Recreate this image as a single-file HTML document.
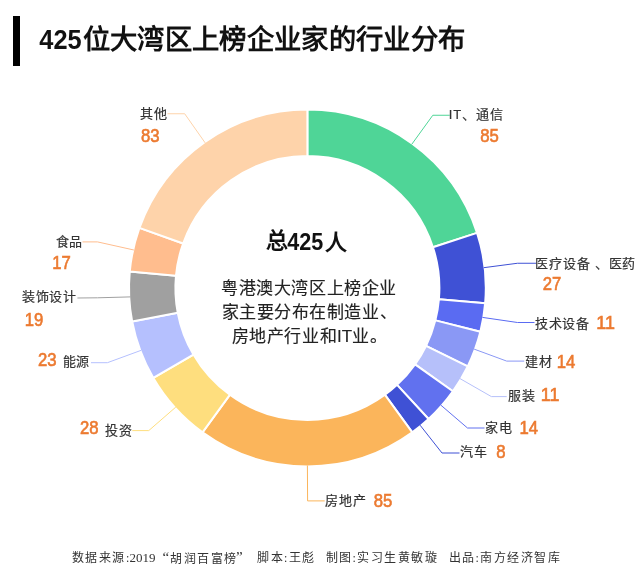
<!DOCTYPE html>
<html lang="zh-CN"><head><meta charset="utf-8">
<style>
html,body{margin:0;padding:0;background:#fff;}
body{width:640px;height:574px;overflow:hidden;position:relative;}
.bar{position:absolute;left:12.9px;top:16.2px;width:7.4px;height:50.1px;background:#000;}
svg{position:absolute;left:0;top:0;will-change:transform;}
</style></head><body>
<div class="bar"></div>
<svg width="640" height="574" viewBox="0 0 640 574">
<path d="M307.40,109.60A178.4,178.4 0 0 1 477.07,232.87L432.94,247.21A132.0,132.0 0 0 0 307.40,156.00Z" fill="#4fd597" stroke="#fff" stroke-width="2" stroke-linejoin="round"/><path d="M477.07,232.87A178.4,178.4 0 0 1 485.16,303.15L438.92,299.21A132.0,132.0 0 0 0 432.94,247.21Z" fill="#3f51d5" stroke="#fff" stroke-width="2" stroke-linejoin="round"/><path d="M485.16,303.15A178.4,178.4 0 0 1 480.36,331.73L435.37,320.35A132.0,132.0 0 0 0 438.92,299.21Z" fill="#5a6bf2" stroke="#fff" stroke-width="2" stroke-linejoin="round"/><path d="M480.36,331.73A178.4,178.4 0 0 1 467.68,366.34L425.99,345.96A132.0,132.0 0 0 0 435.37,320.35Z" fill="#8a98f5" stroke="#fff" stroke-width="2" stroke-linejoin="round"/><path d="M467.68,366.34A178.4,178.4 0 0 1 452.88,391.25L415.04,364.40A132.0,132.0 0 0 0 425.99,345.96Z" fill="#b6c0fa" stroke="#fff" stroke-width="2" stroke-linejoin="round"/><path d="M452.88,391.25A178.4,178.4 0 0 1 428.56,418.95L397.05,384.89A132.0,132.0 0 0 0 415.04,364.40Z" fill="#6171ef" stroke="#fff" stroke-width="2" stroke-linejoin="round"/><path d="M428.56,418.95A178.4,178.4 0 0 1 412.26,432.33L384.99,394.79A132.0,132.0 0 0 0 397.05,384.89Z" fill="#3f51d5" stroke="#fff" stroke-width="2" stroke-linejoin="round"/><path d="M412.26,432.33A178.4,178.4 0 0 1 202.54,432.33L229.81,394.79A132.0,132.0 0 0 0 384.99,394.79Z" fill="#fbb55b" stroke="#fff" stroke-width="2" stroke-linejoin="round"/><path d="M202.54,432.33A178.4,178.4 0 0 1 153.34,377.96L193.41,354.56A132.0,132.0 0 0 0 229.81,394.79Z" fill="#fede7e" stroke="#fff" stroke-width="2" stroke-linejoin="round"/><path d="M153.34,377.96A178.4,178.4 0 0 1 132.16,321.43L177.74,312.73A132.0,132.0 0 0 0 193.41,354.56Z" fill="#b5c0fe" stroke="#fff" stroke-width="2" stroke-linejoin="round"/><path d="M132.16,321.43A178.4,178.4 0 0 1 129.76,271.54L175.96,275.82A132.0,132.0 0 0 0 177.74,312.73Z" fill="#a0a0a0" stroke="#fff" stroke-width="2" stroke-linejoin="round"/><path d="M129.76,271.54A178.4,178.4 0 0 1 139.44,227.88L183.12,243.52A132.0,132.0 0 0 0 175.96,275.82Z" fill="#ffbd8e" stroke="#fff" stroke-width="2" stroke-linejoin="round"/><path d="M139.44,227.88A178.4,178.4 0 0 1 307.40,109.60L307.40,156.00A132.0,132.0 0 0 0 183.12,243.52Z" fill="#fed3aa" stroke="#fff" stroke-width="2" stroke-linejoin="round"/>
<polyline points="411.70,144.40 432.80,115.25 449.70,115.25" fill="none" stroke="#4fd597" stroke-width="1"/><polyline points="483.70,267.70 517.50,263.25 536.25,263.25" fill="none" stroke="#3f51d5" stroke-width="1"/><polyline points="482.45,317.40 517.50,322.50 534.50,322.50" fill="none" stroke="#5a6bf2" stroke-width="1"/><polyline points="474.10,349.10 506.70,361.10 524.20,361.10" fill="none" stroke="#8a98f5" stroke-width="1"/><polyline points="460.00,378.60 491.40,396.60 506.70,396.60" fill="none" stroke="#b6c0fa" stroke-width="1"/><polyline points="440.80,405.10 467.50,428.00 484.50,428.00" fill="none" stroke="#6171ef" stroke-width="1"/><polyline points="420.10,425.20 442.00,453.00 459.50,453.00" fill="none" stroke="#3f51d5" stroke-width="1"/><polyline points="307.40,465.50 307.60,500.90 324.70,500.90" fill="none" stroke="#fbb55b" stroke-width="1"/><polyline points="175.80,407.10 148.75,430.60 132.25,430.60" fill="none" stroke="#fede7e" stroke-width="1"/><polyline points="141.20,350.30 107.40,362.70 91.00,362.70" fill="none" stroke="#b5c0fe" stroke-width="1"/><polyline points="130.30,296.90 97.50,297.80 77.40,298.00" fill="none" stroke="#a0a0a0" stroke-width="1"/><polyline points="133.90,250.00 97.50,241.90 82.50,241.90" fill="none" stroke="#ffbd8e" stroke-width="1"/><polyline points="205.20,142.90 184.70,113.75 167.50,113.75" fill="none" stroke="#fed3aa" stroke-width="1"/>
<text x="39.35" y="48.90" textLength="42.3" lengthAdjust="spacingAndGlyphs" style="font-family:'Liberation Sans',sans-serif;font-size:28.50px;font-weight:bold;fill:#111;letter-spacing:0px;white-space:pre">425</text><text x="82.55" y="48.75" style="font-family:'Liberation Sans',sans-serif;font-size:27.30px;font-weight:bold;fill:#111;letter-spacing:0.33px;white-space:pre">位大湾区上榜企业家的行业分布</text><text x="140.30" y="117.90" style="font-family:'Liberation Sans',sans-serif;font-size:13.00px;font-weight:normal;fill:#333;letter-spacing:0.8px;stroke:#333;stroke-width:0.2px;white-space:pre">其他</text><text x="141.00" y="141.80" textLength="18.59" lengthAdjust="spacingAndGlyphs" style="font-family:'Liberation Sans',sans-serif;font-size:19.00px;font-weight:normal;fill:#ec7a30;letter-spacing:0px;stroke:#ec7a30;stroke-width:0.65px;white-space:pre">83</text><text x="55.50" y="246.00" style="font-family:'Liberation Sans',sans-serif;font-size:13.00px;font-weight:normal;fill:#333;letter-spacing:0.8px;stroke:#333;stroke-width:0.2px;white-space:pre">食品</text><text x="52.20" y="268.50" textLength="18.59" lengthAdjust="spacingAndGlyphs" style="font-family:'Liberation Sans',sans-serif;font-size:19.00px;font-weight:normal;fill:#ec7a30;letter-spacing:0px;stroke:#ec7a30;stroke-width:0.65px;white-space:pre">17</text><text x="21.80" y="301.40" style="font-family:'Liberation Sans',sans-serif;font-size:13.00px;font-weight:normal;fill:#333;letter-spacing:0.8px;stroke:#333;stroke-width:0.2px;white-space:pre">装饰设计</text><text x="24.70" y="325.70" textLength="18.59" lengthAdjust="spacingAndGlyphs" style="font-family:'Liberation Sans',sans-serif;font-size:19.00px;font-weight:normal;fill:#ec7a30;letter-spacing:0px;stroke:#ec7a30;stroke-width:0.65px;white-space:pre">19</text><text x="37.90" y="366.20" textLength="18.59" lengthAdjust="spacingAndGlyphs" style="font-family:'Liberation Sans',sans-serif;font-size:19.00px;font-weight:normal;fill:#ec7a30;letter-spacing:0px;stroke:#ec7a30;stroke-width:0.65px;white-space:pre">23</text><text x="62.50" y="365.50" style="font-family:'Liberation Sans',sans-serif;font-size:13.00px;font-weight:normal;fill:#333;letter-spacing:0.8px;stroke:#333;stroke-width:0.2px;white-space:pre">能源</text><text x="79.90" y="434.15" textLength="18.59" lengthAdjust="spacingAndGlyphs" style="font-family:'Liberation Sans',sans-serif;font-size:19.00px;font-weight:normal;fill:#ec7a30;letter-spacing:0px;stroke:#ec7a30;stroke-width:0.65px;white-space:pre">28</text><text x="105.20" y="434.75" style="font-family:'Liberation Sans',sans-serif;font-size:13.00px;font-weight:normal;fill:#333;letter-spacing:0.8px;stroke:#333;stroke-width:0.2px;white-space:pre">投资</text><text x="325.25" y="504.70" style="font-family:'Liberation Sans',sans-serif;font-size:13.00px;font-weight:normal;fill:#333;letter-spacing:0.8px;stroke:#333;stroke-width:0.2px;white-space:pre">房地产</text><text x="373.70" y="506.65" textLength="18.59" lengthAdjust="spacingAndGlyphs" style="font-family:'Liberation Sans',sans-serif;font-size:19.00px;font-weight:normal;fill:#ec7a30;letter-spacing:0px;stroke:#ec7a30;stroke-width:0.65px;white-space:pre">85</text><text x="448.85" y="119.30" style="font-family:'Liberation Sans',sans-serif;font-size:13.00px;font-weight:normal;fill:#333;letter-spacing:0.8px;stroke:#333;stroke-width:0.2px;white-space:pre">IT、通信</text><text x="480.15" y="141.80" textLength="18.59" lengthAdjust="spacingAndGlyphs" style="font-family:'Liberation Sans',sans-serif;font-size:19.00px;font-weight:normal;fill:#ec7a30;letter-spacing:0px;stroke:#ec7a30;stroke-width:0.65px;white-space:pre">85</text><text x="535.25" y="267.75" style="font-family:'Liberation Sans',sans-serif;font-size:13.00px;font-weight:normal;fill:#333;letter-spacing:0.8px;stroke:#333;stroke-width:0.2px;white-space:pre">医疗设备 、医药</text><text x="542.75" y="289.75" textLength="18.59" lengthAdjust="spacingAndGlyphs" style="font-family:'Liberation Sans',sans-serif;font-size:19.00px;font-weight:normal;fill:#ec7a30;letter-spacing:0px;stroke:#ec7a30;stroke-width:0.65px;white-space:pre">27</text><text x="534.75" y="327.75" style="font-family:'Liberation Sans',sans-serif;font-size:13.00px;font-weight:normal;fill:#333;letter-spacing:0.8px;stroke:#333;stroke-width:0.2px;white-space:pre">技术设备</text><text x="596.25" y="328.50" textLength="18.59" lengthAdjust="spacingAndGlyphs" style="font-family:'Liberation Sans',sans-serif;font-size:19.00px;font-weight:normal;fill:#ec7a30;letter-spacing:0px;stroke:#ec7a30;stroke-width:0.65px;white-space:pre">11</text><text x="525.30" y="365.50" style="font-family:'Liberation Sans',sans-serif;font-size:13.00px;font-weight:normal;fill:#333;letter-spacing:0.8px;stroke:#333;stroke-width:0.2px;white-space:pre">建材</text><text x="556.80" y="367.60" textLength="18.59" lengthAdjust="spacingAndGlyphs" style="font-family:'Liberation Sans',sans-serif;font-size:19.00px;font-weight:normal;fill:#ec7a30;letter-spacing:0px;stroke:#ec7a30;stroke-width:0.65px;white-space:pre">14</text><text x="508.45" y="400.10" style="font-family:'Liberation Sans',sans-serif;font-size:13.00px;font-weight:normal;fill:#333;letter-spacing:0.8px;stroke:#333;stroke-width:0.2px;white-space:pre">服装</text><text x="540.80" y="401.25" textLength="18.59" lengthAdjust="spacingAndGlyphs" style="font-family:'Liberation Sans',sans-serif;font-size:19.00px;font-weight:normal;fill:#ec7a30;letter-spacing:0px;stroke:#ec7a30;stroke-width:0.65px;white-space:pre">11</text><text x="484.75" y="431.50" style="font-family:'Liberation Sans',sans-serif;font-size:13.00px;font-weight:normal;fill:#333;letter-spacing:0.8px;stroke:#333;stroke-width:0.2px;white-space:pre">家电</text><text x="519.50" y="433.75" textLength="18.59" lengthAdjust="spacingAndGlyphs" style="font-family:'Liberation Sans',sans-serif;font-size:19.00px;font-weight:normal;fill:#ec7a30;letter-spacing:0px;stroke:#ec7a30;stroke-width:0.65px;white-space:pre">14</text><text x="459.75" y="456.00" style="font-family:'Liberation Sans',sans-serif;font-size:13.00px;font-weight:normal;fill:#333;letter-spacing:0.8px;stroke:#333;stroke-width:0.2px;white-space:pre">汽车</text><text x="496.25" y="458.00" textLength="9.30" lengthAdjust="spacingAndGlyphs" style="font-family:'Liberation Sans',sans-serif;font-size:19.00px;font-weight:normal;fill:#ec7a30;letter-spacing:0px;stroke:#ec7a30;stroke-width:0.65px;white-space:pre">8</text><text x="265.50" y="248.25" style="font-family:'Liberation Sans',sans-serif;font-size:22.00px;font-weight:bold;fill:#111;letter-spacing:0px;white-space:pre">总</text><text x="287.25" y="250.00" textLength="36" lengthAdjust="spacingAndGlyphs" style="font-family:'Liberation Sans',sans-serif;font-size:24.00px;font-weight:bold;fill:#111;letter-spacing:0px;white-space:pre">425</text><text x="324.75" y="249.50" style="font-family:'Liberation Sans',sans-serif;font-size:22.00px;font-weight:bold;fill:#111;letter-spacing:0px;white-space:pre">人</text><text x="221.30" y="294.20" style="font-family:'Liberation Sans',sans-serif;font-size:17.00px;font-weight:normal;fill:#222;letter-spacing:0.55px;stroke:#222;stroke-width:0.15px;white-space:pre">粤港澳大湾区上榜企业</text><text x="221.60" y="318.40" style="font-family:'Liberation Sans',sans-serif;font-size:17.00px;font-weight:normal;fill:#222;letter-spacing:0.55px;stroke:#222;stroke-width:0.15px;white-space:pre">家主要分布在制造业、</text><text x="231.80" y="341.90" style="font-family:'Liberation Sans',sans-serif;font-size:17.00px;font-weight:normal;fill:#222;letter-spacing:0.55px;stroke:#222;stroke-width:0.15px;white-space:pre">房地产行业和<tspan style='letter-spacing:0'>IT</tspan>业。</text><text x="71.90" y="562.45" style="font-family:'Liberation Serif',serif;font-size:12.00px;font-weight:300;fill:#333;letter-spacing:1.5px;white-space:pre">数据来源:</text><text x="129.40" y="562.40" style="font-family:'Liberation Serif',serif;font-size:13.00px;font-weight:normal;fill:#333;letter-spacing:0px;white-space:pre">2019</text><text x="162.50" y="562.00" style="font-family:'Liberation Serif',serif;font-size:15.00px;font-weight:normal;fill:#333;letter-spacing:0px;white-space:pre">“</text><text x="170.00" y="562.75" style="font-family:'Liberation Serif',serif;font-size:12.00px;font-weight:300;fill:#333;letter-spacing:1.5px;white-space:pre">胡润百富榜</text><text x="236.00" y="562.00" style="font-family:'Liberation Serif',serif;font-size:15.00px;font-weight:normal;fill:#333;letter-spacing:0px;white-space:pre">”</text><text x="257.10" y="562.45" style="font-family:'Liberation Serif',serif;font-size:12.00px;font-weight:300;fill:#333;letter-spacing:1.5px;white-space:pre">脚本:王彪</text><text x="325.50" y="562.45" style="font-family:'Liberation Serif',serif;font-size:12.00px;font-weight:300;fill:#333;letter-spacing:1.5px;white-space:pre">制图:实习生黄敏璇</text><text x="448.55" y="562.45" style="font-family:'Liberation Serif',serif;font-size:12.00px;font-weight:300;fill:#333;letter-spacing:1.5px;white-space:pre">出品:南方经济智库</text>
</svg>
</body></html>
